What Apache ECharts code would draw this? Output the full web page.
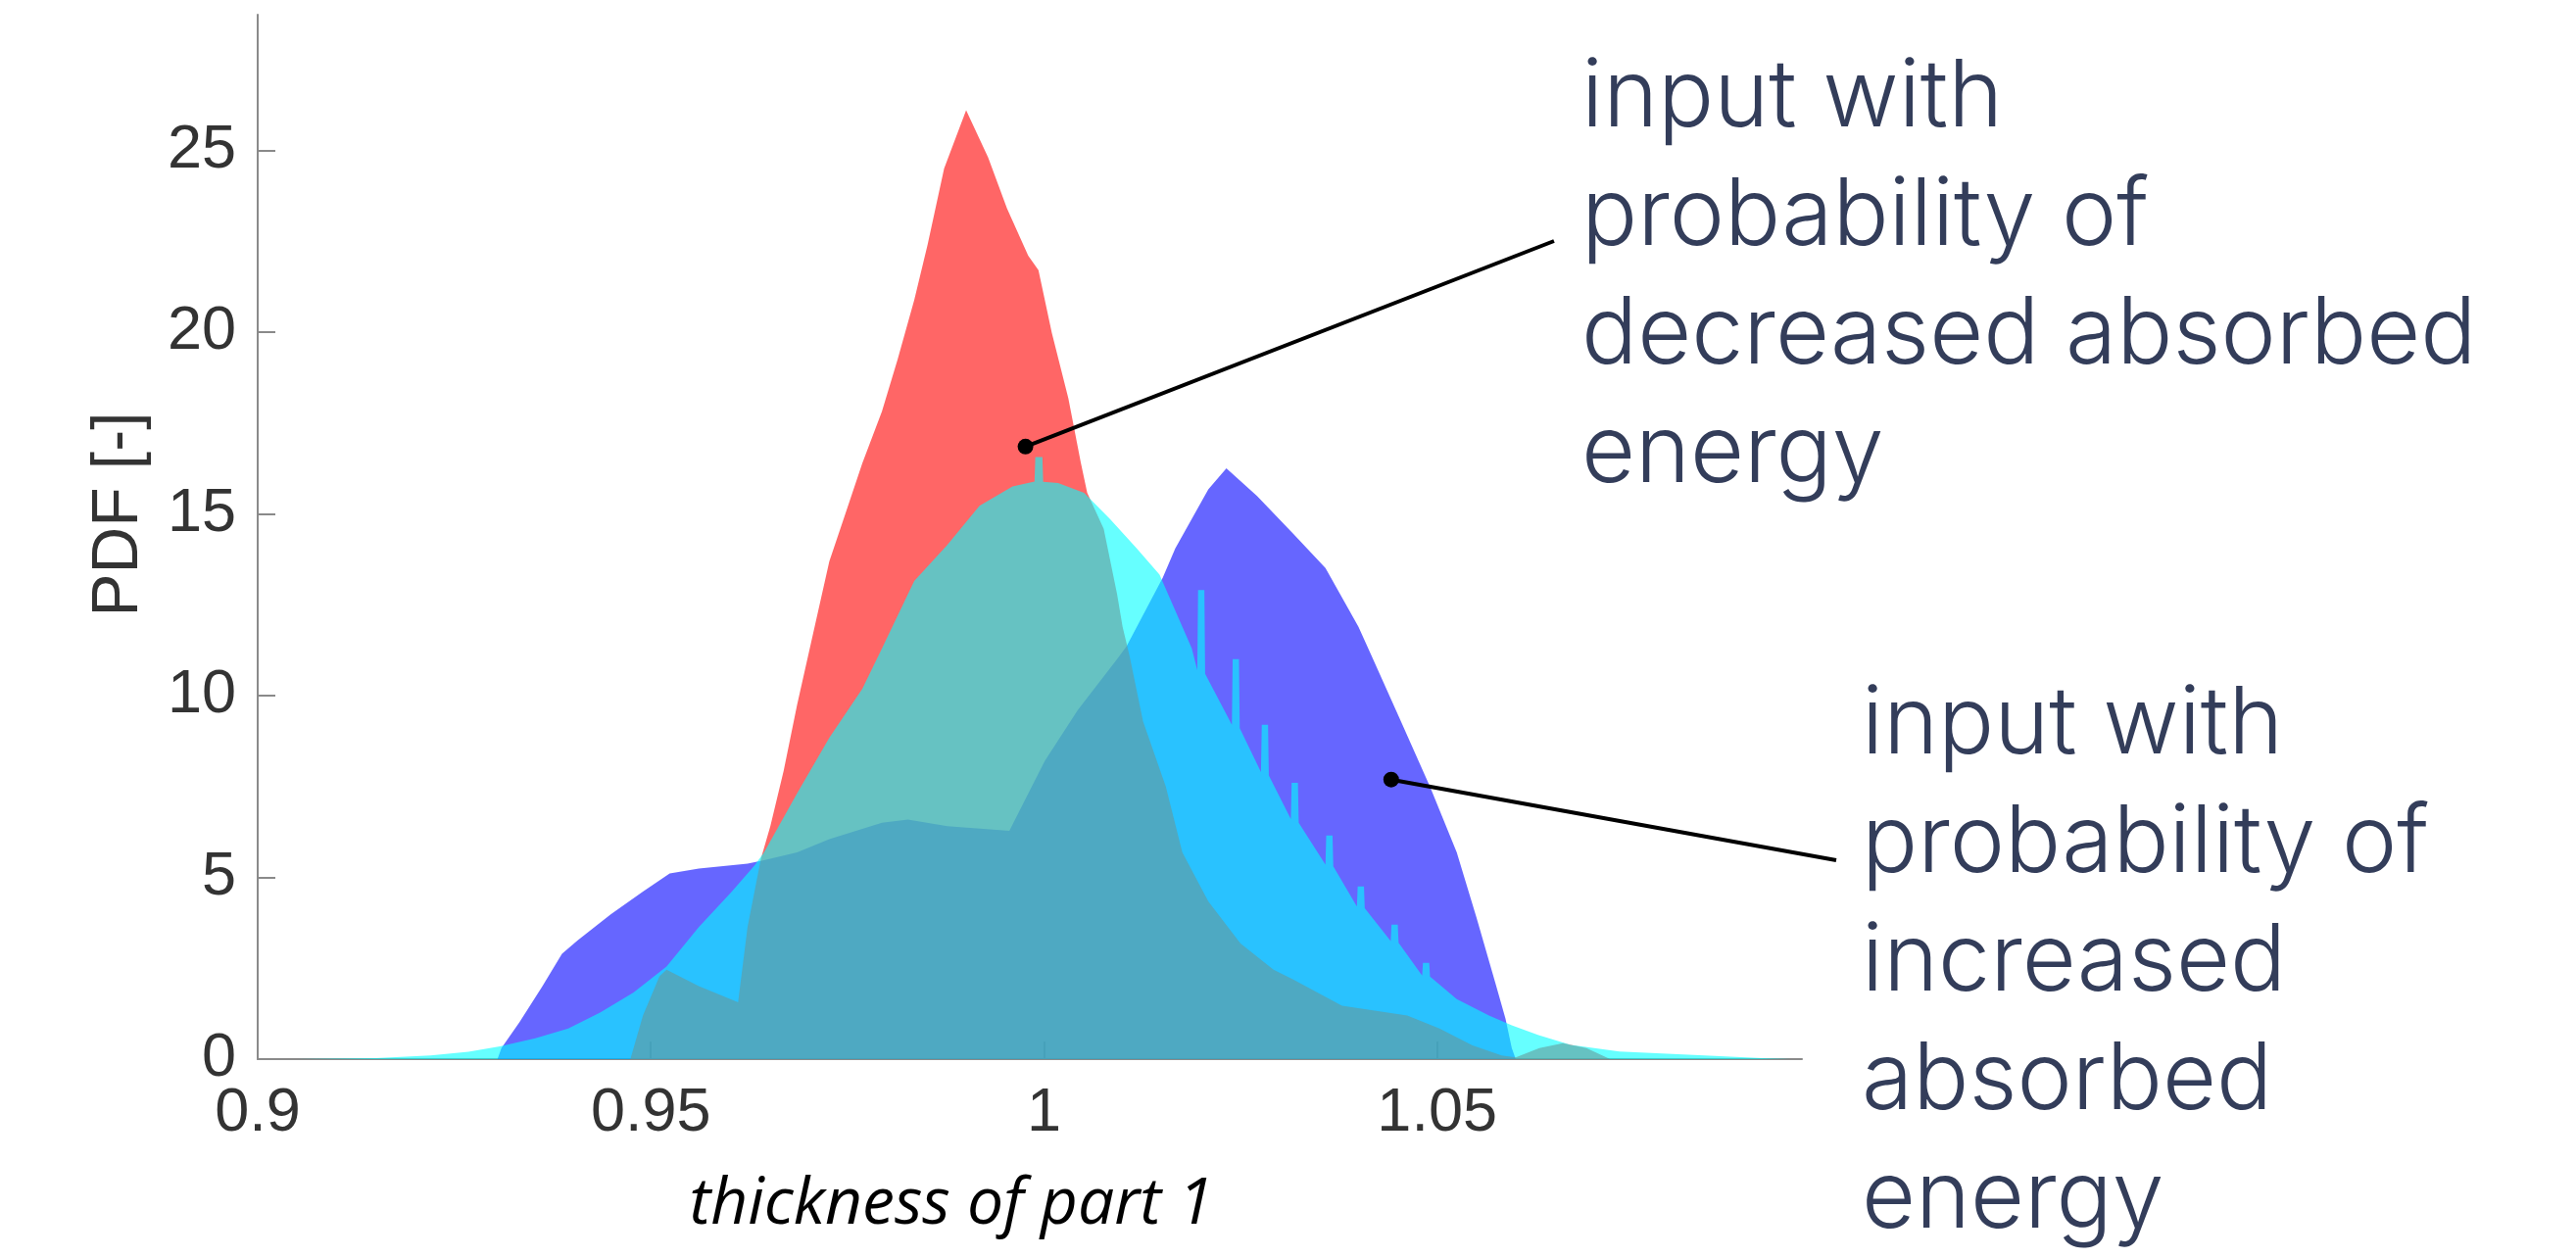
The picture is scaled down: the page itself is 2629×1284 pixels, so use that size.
<!DOCTYPE html>
<html>
<head>
<meta charset="utf-8">
<script src="https://cdn.jsdelivr.net/npm/echarts@6/dist/echarts.min.js"></script>
<style>
html,body{margin:0;padding:0;background:#fff;}
#chart{width:2629px;height:1284px;}
</style>
</head>
<body>
<div id="chart"></div>
<script>
// ---- data ----
const xTicks = [0.9, 0.95, 1, 1.05];
const yTicks = [0, 5, 10, 15, 20, 25];

// blue: input with probability of increased absorbed energy
const blueX = [0.9305,0.9310,0.9333,0.9362,0.9387,0.9407,0.9449,0.9490,0.9524,0.9561,0.9623,0.9644,0.9686,0.9727,0.9794,0.9827,0.9877,0.9956,1.0001,1.0043,1.0093,1.0105,1.0151,1.0167,1.0209,1.0232,1.0271,1.0317,1.0358,1.0400,1.0417,1.0454,1.0491,1.0525,1.0550,1.0574,1.0587,1.0595,1.0600];
const blueY = [0,0.30,1.02,2.00,2.90,3.27,3.98,4.61,5.11,5.24,5.38,5.47,5.69,6.05,6.50,6.59,6.41,6.28,8.20,9.60,11.00,11.35,13.24,14.05,15.67,16.25,15.49,14.45,13.51,11.89,11.08,9.29,7.49,5.69,3.90,2.10,1.11,0.30,0];

// red: input with probability of decreased absorbed energy
const redX = [0.9474,0.9490,0.9511,0.9520,0.9561,0.9611,0.9623,0.9640,0.9652,0.9669,0.9686,0.9727,0.9748,0.9769,0.9794,0.9814,0.9835,0.9852,0.9873,0.9901,0.9929,0.9953,0.9980,0.9993,1.0010,1.0031,1.0047,1.0055,1.0076,1.0093,1.0100,1.0109,1.0126,1.0155,1.0176,1.0209,1.0250,1.0292,1.0317,1.0379,1.0462,1.0503,1.0545,1.0582,1.0600,1.0630,1.0660,1.0690,1.0720];
const redY = [0,1.20,2.28,2.46,2.01,1.56,3.63,5.51,6.41,7.94,9.74,13.69,15.04,16.39,17.82,19.26,20.88,22.40,24.50,26.10,24.80,23.40,22.10,21.70,19.98,18.18,16.39,15.58,14.59,12.79,11.89,11.08,9.29,7.49,5.69,4.34,3.18,2.46,2.19,1.47,1.20,0.84,0.38,0.10,0.05,0.30,0.44,0.30,0];

// cyan: nominal input
const cyanX = [0.9050,0.9150,0.9220,0.9268,0.9308,0.9353,0.9395,0.9436,0.9478,0.9520,0.9561,0.9603,0.9632,0.9644,0.9686,0.9727,0.9769,0.9794,0.9835,0.9877,0.9918,0.9960,0.9988,0.9989,0.9998,0.9999,1.0018,1.0051,1.0084,1.0118,1.0147,1.0188,
  1.0195,1.0196,1.0204,1.0205, 1.0239,1.0240,1.0248,1.0249, 1.0276,1.0277,1.0285,1.0286, 1.0314,1.0315,1.0323,1.0324, 1.0358,1.0359,1.0367,1.0368, 1.0398,1.0399,1.0407,1.0408, 1.0441,1.0442,1.0450,1.0451, 1.0481,1.0482,1.0490,1.0491,
  1.0525,1.0566,1.0595,1.0629,1.0670,1.0732,1.0840,1.0920,1.0950];
const cyanY = [0,0.03,0.10,0.20,0.35,0.57,0.84,1.29,1.83,2.55,3.63,4.61,5.33,5.69,7.31,8.84,10.19,11.30,13.15,14.14,15.22,15.75,15.89,16.56,16.56,15.88,15.85,15.58,14.86,14.05,13.33,11.30,
  10.70,12.90,12.90,10.60, 9.20,11.00,11.00,9.10, 7.90,9.20,9.20,7.80, 6.60,7.60,7.60,6.50, 5.35,6.15,6.15,5.30, 4.20,4.75,4.75,4.15, 3.25,3.70,3.70,3.20, 2.30,2.65,2.65,2.27,
  1.65,1.20,0.93,0.66,0.39,0.21,0.10,0.02,0];

// annotation anchors (data space) and texts
const note1Anchor = [0.99765, 16.85];
const note2Anchor = [1.04416, 7.69];
const note1Text = ['input with','probability of','decreased absorbed','energy'];
const note2Text = ['input with','probability of','increased','absorbed','energy'];
const xTitle = 'thickness of part 1';
const yTitle = 'PDF [-]';

// ---- chart ----
const zip = (xs, ys) => xs.map((x, i) => [x, ys[i]]);
const chart = echarts.init(document.getElementById('chart'), null, {renderer: 'canvas'});

function areaSeries(name, xs, ys, color) {
  return {
    name: name, type: 'line', data: zip(xs, ys),
    showSymbol: false, symbol: 'none', smooth: false,
    lineStyle: {width: 0, opacity: 0},
    areaStyle: {color: color, opacity: 0.6},
    emphasis: {disabled: true}, silent: true
  };
}
const axisGray = '#8a8a8a';
const tickFont = {color: '#333333', fontFamily: 'Liberation Sans', fontSize: 63};

chart.setOption({
  animation: false,
  backgroundColor: '#ffffff',
  grid: {left: 263, top: 15, right: 790, bottom: 203, containLabel: false},
  xAxis: {
    type: 'value', min: 0.9, max: 1.0964, interval: 0.05,
    axisLine: {show: true, onZero: false, lineStyle: {color: axisGray, width: 2}},
    axisTick: {show: true, inside: true, length: 18, customValues: xTicks, lineStyle: {color: axisGray, width: 2}},
    splitLine: {show: false},
    axisLabel: Object.assign({margin: 24, customValues: xTicks,
      formatter: v => String(+v.toFixed(2))}, tickFont)
  },
  yAxis: {
    type: 'value', min: 0, max: 28.73, interval: 5,
    axisLine: {show: true, lineStyle: {color: axisGray, width: 2}},
    axisTick: {show: true, inside: true, length: 18, customValues: yTicks, lineStyle: {color: axisGray, width: 2}},
    splitLine: {show: false},
    axisLabel: Object.assign({margin: 22, customValues: yTicks,
      formatter: v => String(v)}, tickFont)
  },
  series: [
    areaSeries('increased', blueX, blueY, '#0000FF'),
    areaSeries('decreased', redX, redY, '#FF0000'),
    areaSeries('nominal', cyanX, cyanY, '#00FFFF')
  ]
});

const p1 = chart.convertToPixel({gridIndex: 0}, note1Anchor);
const p2 = chart.convertToPixel({gridIndex: 0}, note2Anchor);
const noteStyle = {fontFamily: 'Inter', fontWeight: 300, fontSize: 95, fill: '#333D5A', lineHeight: 121, verticalAlign: 'top', align: 'left'};

chart.setOption({
  graphic: [
    {type: 'line', z: 100, shape: {x1: p1[0], y1: p1[1], x2: 1586, y2: 246}, style: {stroke: '#000', lineWidth: 4}},
    {type: 'circle', z: 101, shape: {cx: p1[0], cy: p1[1], r: 8}, style: {fill: '#000'}},
    {type: 'line', z: 100, shape: {x1: p2[0], y1: p2[1], x2: 1874, y2: 878}, style: {stroke: '#000', lineWidth: 4}},
    {type: 'circle', z: 101, shape: {cx: p2[0], cy: p2[1], r: 8}, style: {fill: '#000'}},
    {type: 'text', z: 100, x: 1614, y: 40, style: Object.assign({text: note1Text.join('\n')}, noteStyle)},
    {type: 'text', z: 100, x: 1900, y: 680, style: Object.assign({text: note2Text.join('\n')}, noteStyle)},
    {type: 'text', z: 100, x: 971, y: 1230, style: {text: xTitle, fontFamily: 'Open Sans', fontStyle: 'italic', fontSize: 66, fill: '#000', align: 'center', verticalAlign: 'middle'}},
    {type: 'text', z: 100, x: 122, y: 525, rotation: Math.PI / 2, style: {text: yTitle, fontFamily: 'Liberation Sans', fontSize: 66, fill: '#333333', align: 'center', verticalAlign: 'middle'}}
  ]
});
</script>
</body>
</html>
